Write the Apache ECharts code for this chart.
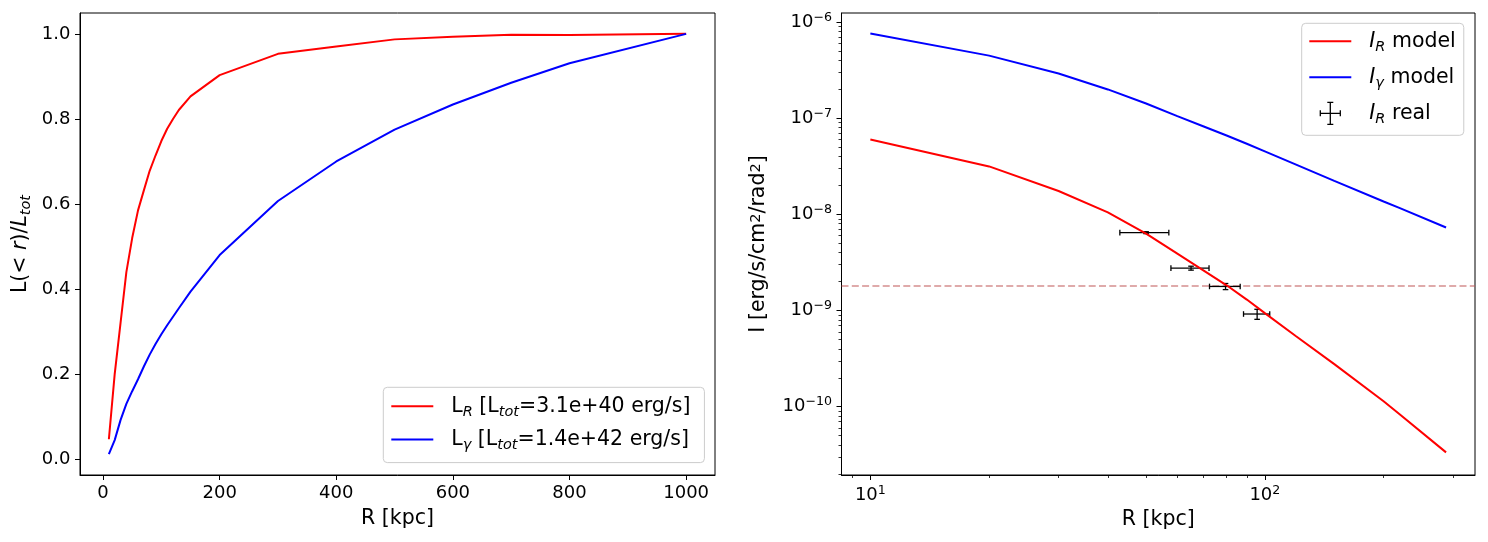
<!DOCTYPE html>
<html>
<head>
<meta charset="utf-8">
<script src="https://cdn.jsdelivr.net/npm/echarts@6/dist/echarts.min.js"></script>
<style>
  html, body { margin: 0; padding: 0; background: #fff; }
  #chart { width: 1488px; height: 542px; }
</style>
</head>
<body>
<div id="chart"></div>
<script>
// ── Datos ─────────────────────────────────────────────
// Panel izquierdo: luminosidad acumulada L(<r)/Ltot
const radiiCum   = [10, 20, 30, 40, 50, 60, 70, 80, 90, 100, 110, 120, 130, 150, 200, 300, 400, 500, 600, 700, 800, 1000]
const fracRadio  = [0.047, 0.20, 0.32, 0.44, 0.52, 0.585, 0.632, 0.678, 0.714, 0.748, 0.777, 0.80, 0.821, 0.853, 0.903, 0.953, 0.970, 0.987, 0.993, 0.998, 0.997, 1.0]
const fracGamma  = [0.012, 0.045, 0.092, 0.13, 0.16, 0.188, 0.218, 0.246, 0.271, 0.294, 0.315, 0.335, 0.355, 0.394, 0.48, 0.607, 0.70, 0.775, 0.834, 0.885, 0.931, 1.0]

// Panel derecho: brillo superficial I(R)
const radiiProf  = [10, 20, 30, 40, 50, 60, 70, 80, 90, 100, 120, 150, 200, 220, 288]
const surfRadio  = [6.0e-8, 3.15e-8, 1.75e-8, 1.05e-8, 6.3e-9, 3.9e-9, 2.6e-9, 1.83e-9, 1.30e-9, 9.4e-10, 5.4e-10, 2.77e-10, 1.14e-10, 8.3e-11, 3.35e-11]
const surfGamma  = [7.6e-7, 4.47e-7, 2.91e-7, 1.99e-7, 1.42e-7, 1.05e-7, 8.2e-8, 6.6e-8, 5.42e-8, 4.52e-8, 3.29e-8, 2.23e-8, 1.36e-8, 1.16e-8, 7.3e-9]

// Puntos observados (radio) con barras de error
const obsR       = [50, 65, 79.5, 95.6]
const obsRerr    = [7.1, 7.2, 7.1, 7.3]
const obsI       = [6.45e-9, 2.76e-9, 1.78e-9, 9.2e-10]
const obsIerr    = [0.15e-9, 0.13e-9, 0.13e-9, 0.11e-9]
const sensLimit  = 1.8e-9

// Ticks
const ticksLinX  = [0, 200, 400, 600, 800, 1000]
const ticksLinY  = [0, 0.2, 0.4, 0.6, 0.8, 1.0]
const ticksLogX  = [10, 100]
const ticksLogY  = [1e-10, 1e-9, 1e-8, 1e-7, 1e-6]

const legendText = {
  LR:     'L{sub|R} [L{sub|tot}=3.1e+40 erg/s]',
  Lg:     'L{sub|γ} [L{sub|tot}=1.4e+42 erg/s]',
  IR:     '{it|I}{sub|R} model',
  Ig:     '{it|I}{sub|γ} model',
  IRreal: '{it|I}{sub|R} real',
}

// ── Helpers ───────────────────────────────────────────
const FF = 'DejaVu Sans'
const pairs = (xs, ys) => xs.map((x, i) => [x, ys[i]])

function minorTicks(lo, hi) {
  const out = []
  for (let e = Math.floor(Math.log10(lo)); e <= Math.ceil(Math.log10(hi)); e++) {
    for (let m = 2; m <= 9; m++) {
      const v = m * Math.pow(10, e)
      if (v >= lo && v <= hi) out.push(v)
    }
  }
  return out
}

function powLabel(v) {
  const e = Math.round(Math.log10(v))
  return '{b|10}{s|' + (e < 0 ? '\u2212' + (-e) : e) + '}'
}

const powRich = {
  b: { fontSize: 18, fontFamily: FF, color: '#000', lineHeight: 22 },
  s: { fontSize: 12.6, fontFamily: FF, color: '#000', lineHeight: 11, verticalAlign: 'top' },
}

const nameRich = {
  it:  { fontSize: 20.5, fontFamily: FF, color: '#000', fontStyle: 'italic', lineHeight: 26 },
  sub: { fontSize: 14.5, fontFamily: FF, color: '#000', fontStyle: 'italic', lineHeight: 14, verticalAlign: 'bottom' },
  sup: { fontSize: 14.5, fontFamily: FF, color: '#000', lineHeight: 12, verticalAlign: 'top' },
}

function renderErrorBar(params, api) {
  const c  = api.coord([api.value(0), api.value(1)])
  const xl = api.coord([api.value(2), api.value(1)])
  const xh = api.coord([api.value(3), api.value(1)])
  const yl = api.coord([api.value(0), api.value(4)])
  const yh = api.coord([api.value(0), api.value(5)])
  const cap = 2.8
  const seg = (x1, y1, x2, y2) => ({
    type: 'line', shape: { x1, y1, x2, y2 },
    style: { stroke: '#000', lineWidth: 1.3 },
  })
  return {
    type: 'group',
    children: [
      seg(xl[0], c[1], xh[0], c[1]),
      seg(xl[0], c[1] - cap, xl[0], c[1] + cap),
      seg(xh[0], c[1] - cap, xh[0], c[1] + cap),
      seg(c[0], yl[1], c[0], yh[1]),
      seg(c[0] - cap, yl[1], c[0] + cap, yl[1]),
      seg(c[0] - cap, yh[1], c[0] + cap, yh[1]),
    ],
  }
}

const axisBase = {
  axisLine:  { show: true, onZero: false, lineStyle: { color: '#000', width: 1 } },
  axisTick:  { show: true, length: 5, lineStyle: { color: '#000', width: 1 } },
  splitLine: { show: false },
  minorTick: { show: false },
  nameTextStyle: { fontSize: 20.5, fontFamily: FF, color: '#000', rich: nameRich },
}

const minorAxis = (extra) => Object.assign({
  axisLine:  { show: false },
  axisLabel: { show: false },
  splitLine: { show: false },
}, extra)

const legendBase = {
  orient: 'vertical',
  itemWidth: 42,
  backgroundColor: 'rgba(255,255,255,0.8)',
  borderColor: '#cccccc',
  borderWidth: 1,
  borderRadius: 4,
  formatter: name => legendText[name],
  textStyle: {
    fontSize: 20.5, fontFamily: FF, color: '#000', lineHeight: 26,
    padding: [0, 0, 0, 13], rich: nameRich,
  },
}

// solo la línea, sin el círculo del símbolo
const lineItem = name => ({ name, itemStyle: { opacity: 0 } })

const errIcon = 'path://M0,11L0.01,11M41.99,11L42,11M11,11L31,11M21,0L21,22M11,8L11,14M31,8L31,14M18,0L24,0M18,22L24,22'

const xLogMin = 8.45, xLogMax = 341
const yLogMin = 1.95e-11, yLogMax = 1.24e-6

const option = {
  animation: false,
  backgroundColor: '#fff',
  textStyle: { fontFamily: FF },
  grid: [
    { left: 80, top: 13, width: 635, height: 462, show: true, borderColor: '#000', borderWidth: 1, outerBoundsMode: 'none' },
    { left: 841.5, top: 13, width: 633.5, height: 462, show: true, borderColor: '#000', borderWidth: 1, outerBoundsMode: 'none' },
  ],
  legend: [
    Object.assign({}, legendBase, {
      data: [lineItem('LR'), lineItem('Lg')],
      left: 383.3, top: 387.3,
      itemHeight: 14, itemGap: 7.3,
      padding: [6, 14, 10, 7],
    }),
    Object.assign({}, legendBase, {
      data: [lineItem('IR'), lineItem('Ig'), {
        name: 'IRreal', icon: errIcon,
        itemStyle: { color: 'rgba(0,0,0,0)', borderColor: '#000', borderWidth: 1.3 },
      }],
      left: 1301.7, top: 23.3,
      itemHeight: 22, itemGap: 10,
      padding: [5, 8, 9, 6.6],
    }),
  ],
  xAxis: [
    Object.assign({}, axisBase, {
      gridIndex: 0, type: 'value', min: -39.5, max: 1049.5,
      axisTick: Object.assign({}, axisBase.axisTick, { customValues: ticksLinX }),
      axisLabel: { customValues: ticksLinX, formatter: v => String(v), fontSize: 18, fontFamily: FF, color: '#000', margin: 9 },
      name: 'R [kpc]', nameLocation: 'middle', nameGap: 33,
    }),
    Object.assign({}, axisBase, {
      gridIndex: 1, type: 'log', logBase: 10, min: xLogMin, max: xLogMax,
      axisTick: Object.assign({}, axisBase.axisTick, { customValues: ticksLogX }),
      axisLabel: { customValues: ticksLogX, formatter: powLabel, rich: powRich, margin: 9 },
      name: 'R [kpc]', nameLocation: 'middle', nameGap: 33,
    }),
    minorAxis({
      gridIndex: 1, type: 'log', logBase: 10, min: xLogMin, max: xLogMax, position: 'bottom',
      axisTick: { show: true, length: 3, customValues: minorTicks(xLogMin, xLogMax), lineStyle: { color: '#000', width: 0.8 } },
    }),
  ],
  yAxis: [
    Object.assign({}, axisBase, {
      gridIndex: 0, type: 'value', min: -0.037, max: 1.049,
      axisTick: Object.assign({}, axisBase.axisTick, { customValues: ticksLinY }),
      axisLabel: { customValues: ticksLinY, formatter: v => v.toFixed(1), fontSize: 18, fontFamily: FF, color: '#000', margin: 9.5 },
      name: 'L(< {it|r})/{it|L}{sub|tot}', nameLocation: 'middle', nameRotate: 90, nameGap: 46,
    }),
    Object.assign({}, axisBase, {
      gridIndex: 1, type: 'log', logBase: 10, min: yLogMin, max: yLogMax,
      axisTick: Object.assign({}, axisBase.axisTick, { customValues: ticksLogY }),
      axisLabel: { customValues: ticksLogY, formatter: powLabel, rich: powRich, margin: 9.5 },
      name: 'I [erg/s/cm{sup|2}/rad{sup|2}]', nameLocation: 'middle', nameRotate: 90, nameGap: 72,
    }),
    minorAxis({
      gridIndex: 1, type: 'log', logBase: 10, min: yLogMin, max: yLogMax, position: 'left',
      axisTick: { show: true, length: 3, customValues: minorTicks(yLogMin, yLogMax), lineStyle: { color: '#000', width: 0.8 } },
    }),
  ],
  series: [
    {
      name: 'LR', type: 'line', xAxisIndex: 0, yAxisIndex: 0,
      data: pairs(radiiCum, fracRadio), symbol: 'none', showSymbol: false,
      lineStyle: { color: '#ff0000', width: 2 }, itemStyle: { color: '#ff0000' },
    },
    {
      name: 'Lg', type: 'line', xAxisIndex: 0, yAxisIndex: 0,
      data: pairs(radiiCum, fracGamma), symbol: 'none', showSymbol: false,
      lineStyle: { color: '#0000ff', width: 2 }, itemStyle: { color: '#0000ff' },
    },
    {
      // límite de sensibilidad: recta horizontal de borde a borde del eje x
      name: 'limit', type: 'line', xAxisIndex: 1, yAxisIndex: 1,
      data: [[xLogMin, sensLimit], [xLogMax, sensLimit]], symbol: 'none', showSymbol: false,
      lineStyle: { color: '#c05656', width: 1.2, type: [7, 3.3] }, silent: true, z: 1,
    },
    {
      name: 'IR', type: 'line', xAxisIndex: 1, yAxisIndex: 1,
      data: pairs(radiiProf, surfRadio), symbol: 'none', showSymbol: false,
      lineStyle: { color: '#ff0000', width: 2 }, itemStyle: { color: '#ff0000' },
    },
    {
      name: 'Ig', type: 'line', xAxisIndex: 1, yAxisIndex: 1,
      data: pairs(radiiProf, surfGamma), symbol: 'none', showSymbol: false,
      lineStyle: { color: '#0000ff', width: 2 }, itemStyle: { color: '#0000ff' },
    },
    {
      name: 'IRreal', type: 'custom', xAxisIndex: 1, yAxisIndex: 1,
      data: obsR.map((r, i) => [r, obsI[i], r - obsRerr[i], r + obsRerr[i], obsI[i] - obsIerr[i], obsI[i] + obsIerr[i]]),
      encode: { x: [0, 2, 3], y: [1, 4, 5] },
      itemStyle: { color: '#000' },
      renderItem: renderErrorBar,
      z: 3,
    },
  ],
}

const chart = echarts.init(document.getElementById('chart'), null, { renderer: 'canvas' })
chart.setOption(option)
</script>
</body>
</html>
